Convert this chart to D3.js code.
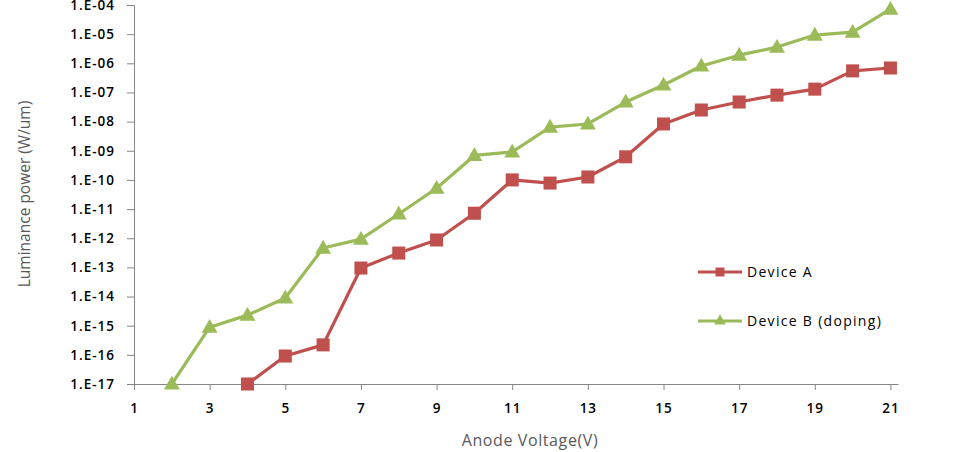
<!DOCTYPE html>
<html>
<head>
<meta charset="utf-8">
<script src="https://cdn.jsdelivr.net/npm/d3@7"></script>
<style>
  body { margin: 0; background: #fff; }
  svg { display: block; }
  .tick text { font-family: "Open Sans", sans-serif; font-size: 13.5px; font-weight: 600; fill: #000; letter-spacing: 1px; }
</style>
</head>
<body>
<div id="chart"></div>
<script>
/* chart data */
let voltages = [2, 3, 4, 5, 6, 7, 8, 9, 10, 11, 12, 13, 14, 15, 16, 17, 18, 19, 20, 21];
let deviceA = [null, null, 1e-17, 9.1e-17, 2.2e-16, 9.5e-14, 3.1e-13, 8.7e-13, 7.2e-12, 1.0e-10,
               7.8e-11, 1.26e-10, 6.2e-10, 8.3e-9, 2.5e-8, 4.7e-8, 8.1e-8, 1.3e-7, 5.5e-7, 6.9e-7];
let deviceB = [1e-17, 8.9e-16, 2.3e-15, 8.9e-15, 4.6e-13, 9.3e-13, 6.8e-12, 5.2e-11, 6.9e-10, 9.1e-10,
               6.5e-9, 8.3e-9, 4.7e-8, 1.8e-7, 8.1e-7, 1.9e-6, 3.6e-6, 9.3e-6, 1.17e-5, 7.2e-5];
let xTicks = [1, 3, 5, 7, 9, 11, 13, 15, 17, 19, 21];
let yTicks = [1e-4, 1e-5, 1e-6, 1e-7, 1e-8, 1e-9, 1e-10, 1e-11, 1e-12, 1e-13, 1e-14, 1e-15, 1e-16, 1e-17];
let yTickLabels = ["1.E-04", "1.E-05", "1.E-06", "1.E-07", "1.E-08", "1.E-09", "1.E-10",
                   "1.E-11", "1.E-12", "1.E-13", "1.E-14", "1.E-15", "1.E-16", "1.E-17"];
let seriesNames = ["Device A", "Device B (doping)"];

let width = 959;
let height = 452;
let margin = {top: 5, bottom: 68, left: 134, right: 61};

let svg = d3.select("#chart").append("svg")
            .attr("width", width)
            .attr("height", height);

let xScale = d3.scaleLinear()
               .domain([1, 21.2])
               .range([margin.left, width - margin.right]);

let yScale = d3.scaleLog()
               .domain([1e-17, 1e-4])
               .range([height - margin.bottom, margin.top]);

// y axis
let yAxis = svg.append("g")
               .attr("transform", `translate(${margin.left},0)`)
               .call(d3.axisLeft(yScale)
                       .tickValues(yTicks)
                       .tickSize(7)
                       .tickPadding(12)
                       .tickFormat((d, i) => yTickLabels[i]));
yAxis.selectAll("path, line").attr("stroke", "#868686");

// x axis
let xAxis = svg.append("g")
               .attr("transform", `translate(0,${height - margin.bottom})`)
               .call(d3.axisBottom(xScale)
                       .tickValues(xTicks)
                       .tickSize(6)
                       .tickSizeOuter(0)
                       .tickPadding(13)
                       .tickFormat(d3.format("d")));
xAxis.selectAll("path, line").attr("stroke", "#868686");

// axis titles
svg.append("text")
   .attr("x", 530)
   .attr("y", 446)
   .attr("text-anchor", "middle")
   .style("font-family", "Open Sans, sans-serif")
   .style("font-size", "16px")
   .style("letter-spacing", "0.6px")
   .style("fill", "#595959")
   .text("Anode Voltage(V)");

svg.append("text")
   .attr("transform", "translate(30,194) rotate(-90)")
   .attr("text-anchor", "middle")
   .style("font-family", "Open Sans, sans-serif")
   .style("font-size", "15.5px")
   .style("fill", "#595959")
   .text("Luminance power (W/um)");

let colors = ["#C0504D", "#9BBB59"];
let allSeries = [deviceA, deviceB];

let line = d3.line()
             .defined(d => d.y != null)
             .x(d => xScale(d.x))
             .y(d => yScale(d.y));

let square = d3.symbol().type(d3.symbolSquare).size(170);
let triangle = d3.symbol().type(d3.symbolTriangle).size(110);
let shapes = [square, triangle];

allSeries.forEach((values, i) => {
  let pts = voltages.map((v, j) => ({x: v, y: values[j]})).filter(d => d.y != null);
  svg.append("path")
     .attr("d", line(pts))
     .attr("fill", "none")
     .attr("stroke", colors[i])
     .attr("stroke-width", 3.2)
     .attr("stroke-linejoin", "round");
  svg.append("g").selectAll("path")
     .data(pts)
     .join("path")
       .attr("transform", d => `translate(${xScale(d.x)},${yScale(d.y) + (i == 1 ? 1 : 0)})`)
       .attr("d", shapes[i]())
       .attr("fill", colors[i]);
});

// legend
let legendY = [272, 321];
seriesNames.forEach((name, i) => {
  let g = svg.append("g").attr("transform", `translate(698,${legendY[i]})`);
  g.append("line")
   .attr("x1", 0).attr("x2", 44)
   .attr("stroke", colors[i])
   .attr("stroke-width", 3.2);
  g.append("path")
   .attr("transform", "translate(22,0)")
   .attr("d", d3.symbol().type(i == 0 ? d3.symbolSquare : d3.symbolTriangle).size(i == 0 ? 80 : 60)())
   .attr("fill", colors[i]);
  g.append("text")
   .attr("x", 49)
   .attr("dy", "0.35em")
   .style("font-family", "Open Sans, sans-serif")
   .style("font-size", "14px")
   .style("letter-spacing", "1.3px")
   .text(name);
});
</script>
</body>
</html>
